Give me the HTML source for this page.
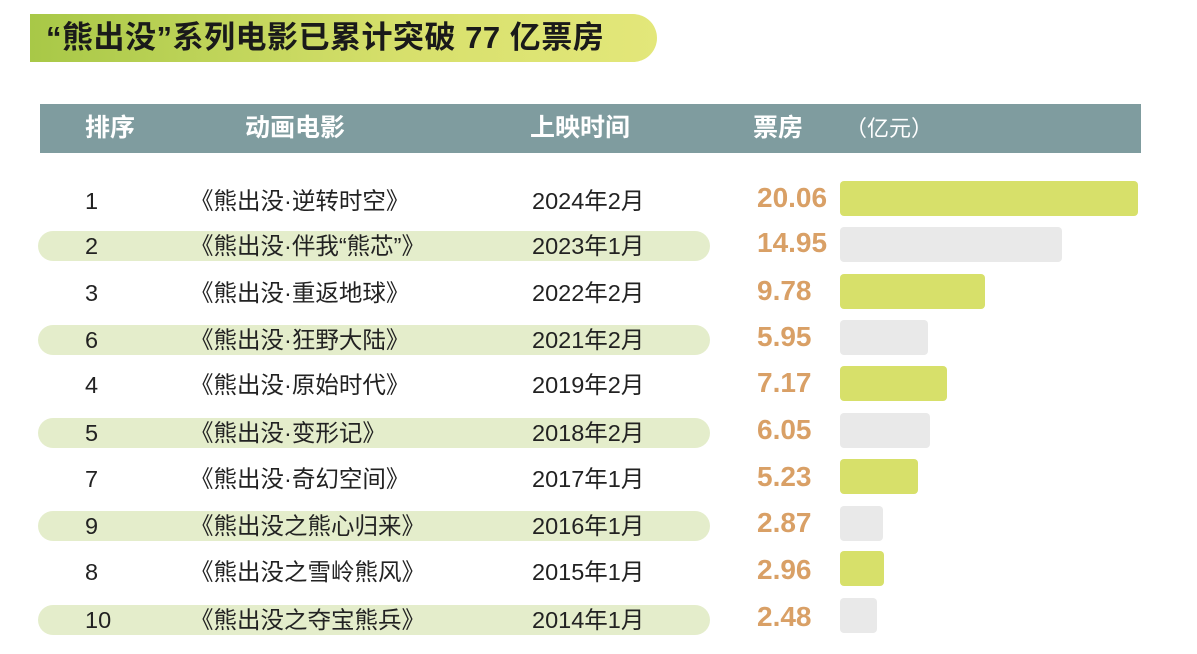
<!DOCTYPE html>
<html><head><meta charset="utf-8"><style>
body{margin:0;width:1197px;height:654px;background:#fff;position:relative;overflow:hidden;font-family:"Liberation Sans","Noto Sans CJK SC",sans-serif;}
.a{position:absolute;white-space:nowrap;}
.title{left:30px;top:14px;width:627px;height:48px;border-radius:0 24px 24px 0;background:linear-gradient(90deg,#a8c847,#d7e06c 60%,#e3e77a);}
.tt{left:46px;top:14px;height:48px;line-height:48px;font-size:31px;font-weight:bold;color:#1a1a1a;letter-spacing:0.5px}
.hdr{left:40px;top:104px;width:1101px;height:49px;background:#7f9c9f;}
.h{top:104px;line-height:49px;color:#fff;font-size:25px;font-weight:bold;}
.pill{left:38px;width:672px;height:30px;border-radius:15px;background:#e4edcb;}
.t{font-size:23.5px;color:#222;line-height:30px;}
.v{left:757px;font-size:28px;font-weight:bold;color:#d9a066;line-height:30px;}
.bar{left:840px;height:35px;border-radius:4px;}
.g{background:#d7e06a}.w{background:#e9e9e9}
</style></head><body>
<div class="a title"></div>
<div class="a tt">“熊出没”系列电影已累计突破 77 亿票房</div>
<div class="a hdr"></div>
<div class="a h" style="left:85px">排序</div>
<div class="a h" style="left:245px">动画电影</div>
<div class="a h" style="left:530px">上映时间</div>
<div class="a h" style="left:753px">票房</div>
<div class="a h" style="left:845px;font-weight:normal;font-size:22px">（亿元）</div>

<div class="a pill" style="top:231px"></div>
<div class="a pill" style="top:325px"></div>
<div class="a pill" style="top:418px"></div>
<div class="a pill" style="top:511px"></div>
<div class="a pill" style="top:605px"></div>

<div class="a t" style="left:85px;top:186px">1</div><div class="a t" style="left:190px;top:186px">《熊出没·逆转时空》</div><div class="a t" style="left:532px;top:186px">2024年2月</div><div class="a v" style="top:183px">20.06</div><div class="a bar g" style="top:181px;width:298px"></div>
<div class="a t" style="left:85px;top:231px">2</div><div class="a t" style="left:190px;top:231px">《熊出没·伴我“熊芯”》</div><div class="a t" style="left:532px;top:231px">2023年1月</div><div class="a v" style="top:228px">14.95</div><div class="a bar w" style="top:227px;width:222px"></div>
<div class="a t" style="left:85px;top:278px">3</div><div class="a t" style="left:190px;top:278px">《熊出没·重返地球》</div><div class="a t" style="left:532px;top:278px">2022年2月</div><div class="a v" style="top:276px">9.78</div><div class="a bar g" style="top:274px;width:145px"></div>
<div class="a t" style="left:85px;top:325px">6</div><div class="a t" style="left:190px;top:325px">《熊出没·狂野大陆》</div><div class="a t" style="left:532px;top:325px">2021年2月</div><div class="a v" style="top:322px">5.95</div><div class="a bar w" style="top:320px;width:88px"></div>
<div class="a t" style="left:85px;top:370px">4</div><div class="a t" style="left:190px;top:370px">《熊出没·原始时代》</div><div class="a t" style="left:532px;top:370px">2019年2月</div><div class="a v" style="top:368px">7.17</div><div class="a bar g" style="top:366px;width:107px"></div>
<div class="a t" style="left:85px;top:418px">5</div><div class="a t" style="left:190px;top:418px">《熊出没·变形记》</div><div class="a t" style="left:532px;top:418px">2018年2月</div><div class="a v" style="top:415px">6.05</div><div class="a bar w" style="top:413px;width:90px"></div>
<div class="a t" style="left:85px;top:464px">7</div><div class="a t" style="left:190px;top:464px">《熊出没·奇幻空间》</div><div class="a t" style="left:532px;top:464px">2017年1月</div><div class="a v" style="top:462px">5.23</div><div class="a bar g" style="top:459px;width:78px"></div>
<div class="a t" style="left:85px;top:511px">9</div><div class="a t" style="left:190px;top:511px">《熊出没之熊心归来》</div><div class="a t" style="left:532px;top:511px">2016年1月</div><div class="a v" style="top:508px">2.87</div><div class="a bar w" style="top:506px;width:43px"></div>
<div class="a t" style="left:85px;top:557px">8</div><div class="a t" style="left:190px;top:557px">《熊出没之雪岭熊风》</div><div class="a t" style="left:532px;top:557px">2015年1月</div><div class="a v" style="top:555px">2.96</div><div class="a bar g" style="top:551px;width:44px"></div>
<div class="a t" style="left:85px;top:605px">10</div><div class="a t" style="left:190px;top:605px">《熊出没之夺宝熊兵》</div><div class="a t" style="left:532px;top:605px">2014年1月</div><div class="a v" style="top:602px">2.48</div><div class="a bar w" style="top:598px;width:37px"></div>
</body></html>
